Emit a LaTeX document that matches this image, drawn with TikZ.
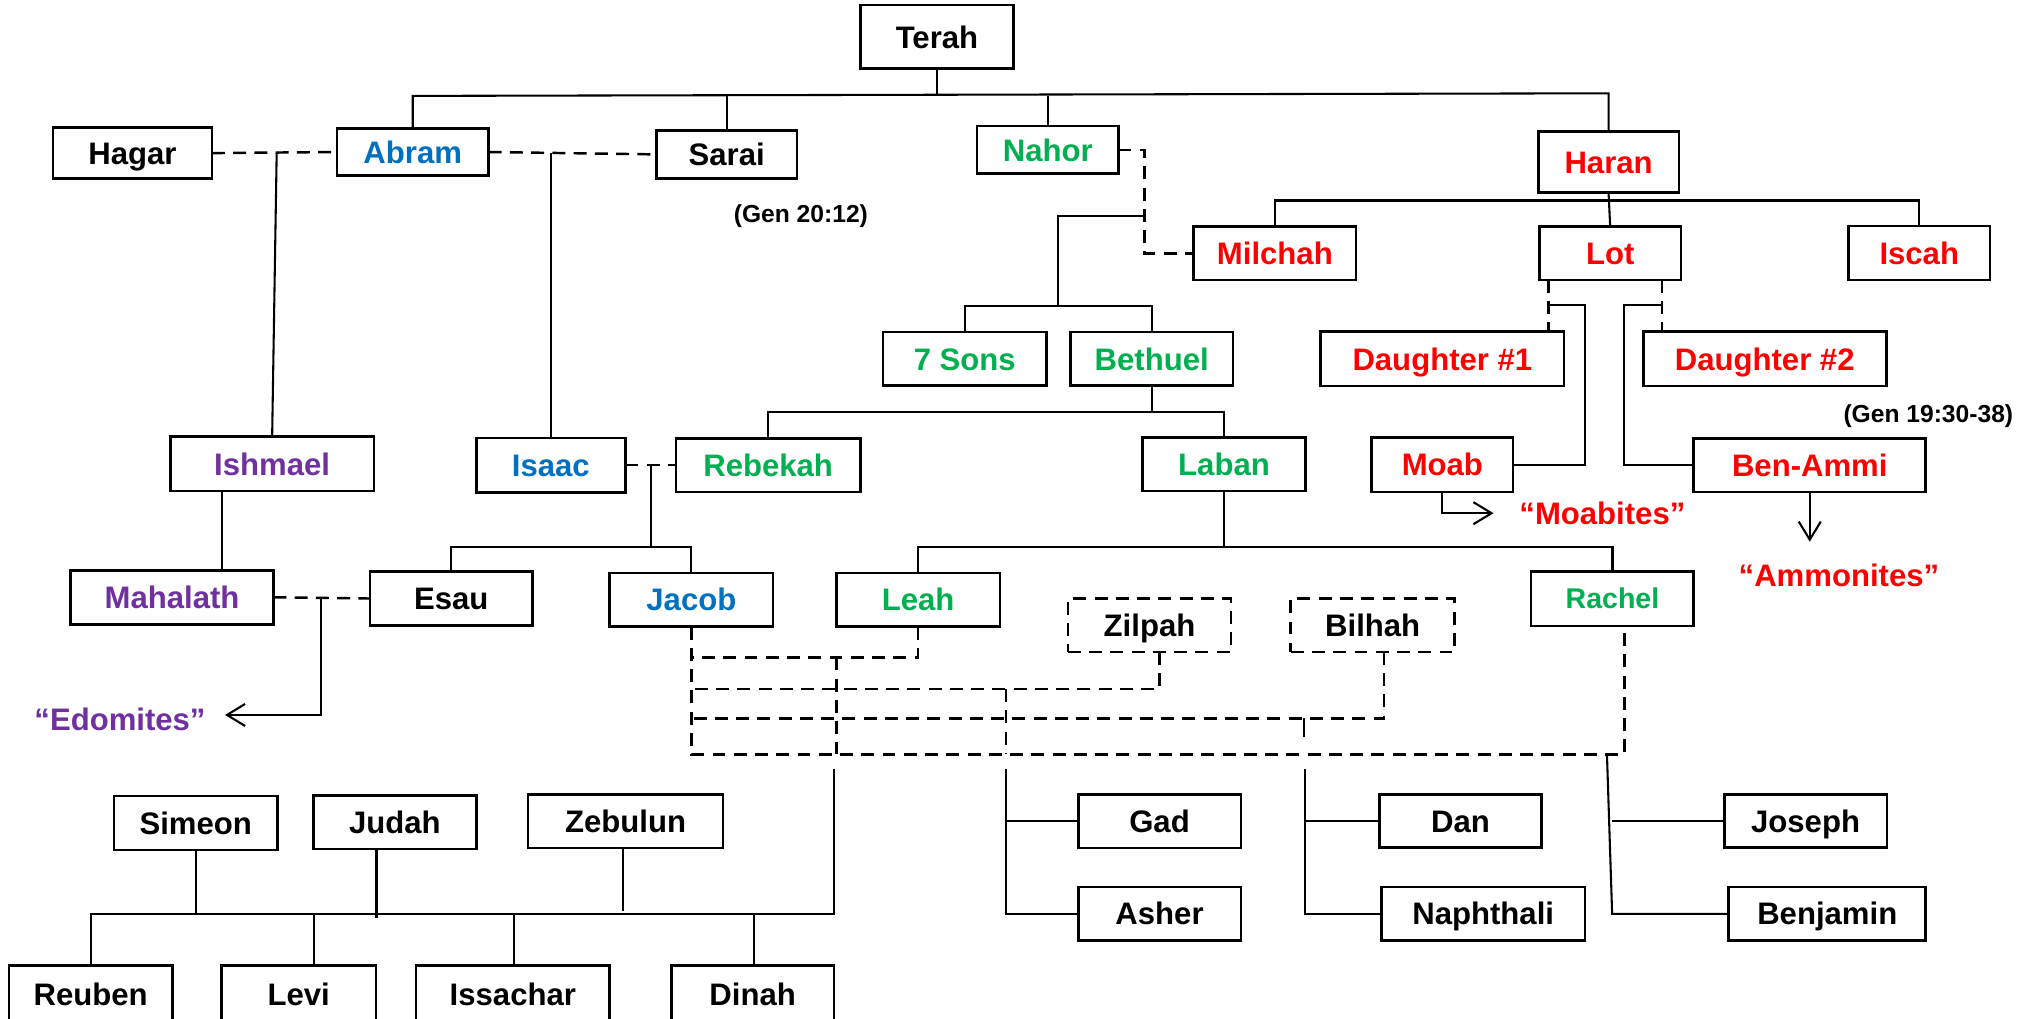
\documentclass[tikz,border=0pt]{standalone}
\usepackage{fontspec}
\setmainfont{Liberation Sans}
\usetikzlibrary{arrows.meta}
\definecolor{cblue}{RGB}{0,112,192}
\definecolor{cgreen}{RGB}{0,176,80}
\definecolor{cred}{RGB}{255,0,0}
\definecolor{cpurple}{RGB}{112,48,160}
\newcommand\mkbox[7][]{%
  \pgfmathsetmacro\mkbw{(#5-#3)*0.5}%
  \pgfmathsetmacro\mkbh{(#6-#4)*0.5}%
  \node[pbox,#1,minimum width=\mkbw pt,minimum height=\mkbh pt] (#2) at ({(#3+#5)/2},{(#4+#6)/2}) {#7};}
\begin{document}
\begin{tikzpicture}[x=0.5pt,y=-0.5pt,
  pbox/.style={draw=black,line width=1pt,inner sep=0pt,outer sep=0pt,font=\bfseries\fontsize{12}{14}\selectfont,text height=8.6pt,text depth=0pt},
  dbox/.style={dash pattern=on 5pt off 3.2pt},
  conn/.style={line width=0.8pt},
  dconn/.style={line width=0.95pt,dash pattern=on 5pt off 3.2pt},
  arr/.style={conn,-{Straight Barb[length=7pt,width=8.5pt,line width=0.8pt]}},
  note/.style={inner sep=0pt,font=\bfseries\fontsize{9.5}{11}\selectfont,text height=6.8pt,text depth=0pt},
  qt/.style={inner sep=0pt,font=\bfseries\fontsize{12}{14}\selectfont,text height=8.6pt,text depth=0pt},
]
\useasboundingbox (0,0) rectangle (1568,786);
\fill[white] (0,0) rectangle (1568,786);
% ---- nodes
\mkbox{terah}{664}{4}{782}{53}{Terah}
\mkbox{hagar}{41}{98.6}{163.5}{137.7}{Hagar}
\mkbox[text=cblue]{abram}{260}{99}{377}{135.6}{Abram}
\mkbox{sarai}{506.5}{100.6}{615}{137.7}{Sarai}
\mkbox[text=cgreen]{nahor}{754}{97.3}{863}{134}{Nahor}
\mkbox[text=cred]{haran}{1187}{101.6}{1295.5}{148.7}{Haran}
\mkbox[text=cred]{milchah}{921}{174.7}{1046.5}{216.2}{Milchah}
\mkbox[text=cred]{lot}{1188}{175}{1297}{216}{Lot}
\mkbox[text=cred]{iscah}{1426.5}{174.5}{1535.5}{216}{Iscah}
\mkbox[text=cgreen]{sevensons}{681.5}{256.3}{807.5}{297.7}{7 Sons}
\mkbox[text=cgreen]{bethuel}{826}{256.3}{951.5}{297.7}{Bethuel}
\mkbox[text=cred]{d1}{1019}{256}{1207}{298}{Daughter \#1}
\mkbox[text=cred]{d2}{1268}{256}{1455.5}{298}{Daughter \#2}
\mkbox[text=cpurple]{ishmael}{131.5}{337}{288.5}{379}{Ishmael}
\mkbox[text=cblue]{isaac}{367.5}{338}{482.5}{380}{Isaac}
\mkbox[text=cgreen]{rebekah}{521.5}{338.4}{664}{379.6}{Rebekah}
\mkbox[text=cgreen]{laban}{881.5}{337.6}{1007.5}{378.8}{Laban}
\mkbox[text=cred]{moab}{1058.5}{337.6}{1167.5}{379.6}{Moab}
\mkbox[text=cred]{benammi}{1307}{338.4}{1486}{379.6}{Ben-Ammi}
\mkbox[text=cpurple]{mahalath}{54.5}{440}{211}{481.8}{Mahalath}
\mkbox{esau}{285.5}{440.9}{411}{482.8}{Esau}
\mkbox[text=cblue]{jacob}{470.5}{442}{596.5}{483.6}{Jacob}
\mkbox[text=cgreen]{leah}{645.5}{442}{771.5}{483.6}{Leah}
\mkbox[text=cgreen,font=\bfseries\fontsize{11}{13}\selectfont,text height=7.9pt]{rachel}{1181.5}{441}{1307}{483}{Rachel}
\mkbox[dbox]{zilpah}{824}{462}{950}{503}{Zilpah}
\mkbox[dbox]{bilhah}{996}{462}{1122.5}{503}{Bilhah}
\mkbox{gad}{832}{613}{957.5}{654.2}{Gad}
\mkbox{asher}{832}{684.6}{957.5}{725.7}{Asher}
\mkbox{dan}{1064.5}{613}{1189.5}{654}{Dan}
\mkbox{naphthali}{1066}{684.6}{1223}{725.7}{Naphthali}
\mkbox{joseph}{1330.5}{613}{1456}{654}{Joseph}
\mkbox{benjamin}{1334}{684.6}{1486}{725.7}{Benjamin}
\mkbox{simeon}{88}{614.3}{214}{656}{Simeon}
\mkbox{judah}{242}{613.8}{367.5}{655}{Judah}
\mkbox{zebulun}{407.5}{613.3}{558}{654.5}{Zebulun}
\mkbox{reuben}{7}{745}{133}{790}{Reuben}
\mkbox{levi}{171}{745}{290}{790}{Levi}
\mkbox{issachar}{321}{745}{470.5}{790}{Issachar}
\mkbox{dinah}{518}{745}{643.5}{790}{Dinah}
% ---- labels
\node[note] (gen1) at (618,164.7) {(Gen 20:12)};
\node[note] (gen2) at (1488,319) {(Gen 19:30-38)};
\node[qt,text=cred] (moabites) at (1236.5,396) {“Moabites”};
\node[qt,text=cred] (ammonites) at (1419,444) {“Ammonites”};
\node[qt,text=cpurple] (edomites) at (92.6,555) {“Edomites”};
% ---- Terah's children
\coordinate (tbL) at (318.5,74);
\coordinate (tbR) at (1241.25,72);
\draw[conn] (abram.north) -- (abram.north |- tbL) -- (tbR) -- (haran.north);
\draw[conn] (terah.south) -- (terah.south |- tbL);
\draw[conn] (sarai.north) -- (sarai.north |- tbL);
\draw[conn] (nahor.north) -- (nahor.north |- tbL);
% ---- Abram
\draw[dconn] (hagar.east) -- (abram.west);
\coordinate (ha) at (213.5,118);
\draw[conn] (ha) -- (ishmael.north);
\draw[dconn] (abram.east) -- (sarai.west);
\coordinate (as) at (425,118.3);
\draw[conn] (as) -- (isaac.north);
% ---- Nahor
\coordinate (nmv) at (883,160);
\draw[dconn] (nahor.east) -| (nmv) |- (milchah.west);
\coordinate (nmc) at (882,166.7);
\draw[conn] (nmc) -- (816.5,166.7) -- (816.5,235.8);
\draw[conn] (sevensons.north) -- ++(0,-20.5) -| (bethuel.north);
\draw[conn] (bethuel.south) -- (bethuel.south |- 0,318);
\draw[conn] (rebekah.north) -- ++(0,-20.4) -| (laban.north);
% ---- Haran
\draw[conn] (haran.south) -- (lot.north);
\draw[conn] (milchah.north) -- ++(0,-20) -| (iscah.north);
\coordinate (l1) at (1195,235.7);
\coordinate (l2) at (1282.5,235.7);
\draw[dconn] (l1 |- lot.south) -- (l1 |- d1.north);
\draw[dconn] (l2 |- lot.south) -- (l2 |- d2.north);
\draw[conn] (l1) -- (1223,235.7) |- (moab.east);
\draw[conn] (l2) -- (1253.5,235.7) |- (benammi.west);
\coordinate (motip) at (1152.5,396);
\draw[arr] (moab.south) |- (motip);
\draw[arr] (benammi.south) -- (benammi.south |- 0,418);
% ---- Isaac
\draw[dconn] (isaac.east) -- (rebekah.west);
\coordinate (ir) at (502.5,359);
\draw[conn] (ir) -- (ir |- 0,421.9);
\draw[conn] (esau.north) -- ++(0,-19) -| (jacob.north);
% ---- Ishmael
\draw[conn] (ishmael.south -| 171,0) -- (mahalath.north -| 171,0);
\draw[dconn] (mahalath.east) -- (esau.west);
\coordinate (me) at (248,461.2);
\coordinate (edtip) at (173.6,551.7);
\draw[arr] (me) |- (edtip);
% ---- Laban
\draw[conn] (laban.south) -- (laban.south |- 0,422);
\draw[conn] (leah.north) -- ++(0,-20) -| (rachel.north);
% ---- Jacob's wives
\draw[dconn] (jacob.south) -- (jacob.south |- 0,582.1) -- (1253.4,582.1) -- (1253.4,0 |- rachel.south);
\draw[dconn] (leah.south) |- (jacob.south |- 0,507.2);
\draw[dconn] (894.7,0 |- zilpah.south) |- (jacob.south |- 0,531.7);
\draw[dconn] (1067.9,0 |- bilhah.south) |- (jacob.south |- 0,554.3);
\draw[dconn] (645.6,507.2) -- (645.6,582.1);
\draw[dconn] (776.1,531.7) -- (776.1,582.1);
\draw[conn] (1006.5,554.3) -- (1006.5,569);
% ---- Leah's children
\draw[conn] (643.5,593.7) -- (643.5,705.5) -- (reuben.north |- 0,705.5) -- (reuben.north);
\draw[conn] (simeon.south) -- (simeon.south |- 0,705.5);
\draw[conn] (judah.south -| 290.5,0) -- (290.5,708);
\draw[conn] (zebulun.south -| 481,0) -- (481,703);
\draw[conn] (levi.north -| 242,0) -- (242,705.5);
\draw[conn] (issachar.north -| 396.5,0) -- (396.5,705.5);
\draw[conn] (dinah.north -| 581.5,0) -- (581.5,705.5);
% ---- Zilpah's children
\draw[conn] (776.5,593.7) |- (asher.west);
\draw[conn] (gad.west -| 776.5,0) -- (gad.west);
% ---- Bilhah's children
\draw[conn] (1007,593.7) |- (naphthali.west);
\draw[conn] (dan.west -| 1007,0) -- (dan.west);
% ---- Rachel's children
\draw[conn] (1240,582.1) -- (1244,705.2) -- (benjamin.west);
\draw[conn] (joseph.west -| 1244,0) -- (joseph.west);
\end{tikzpicture}
\end{document}
